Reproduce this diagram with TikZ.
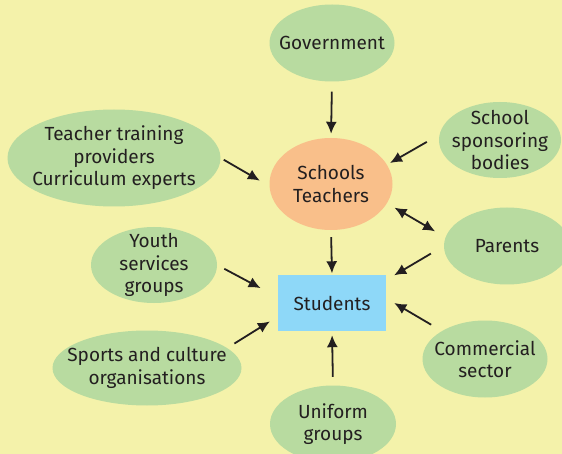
\documentclass[tikz,border=0pt]{standalone}
\usepackage{fontspec}
\setmainfont{Fira Sans}
\usetikzlibrary{shapes.geometric,positioning,arrows.meta}
\definecolor{bgyellow}{HTML}{F4F2AA}
\definecolor{actgreen}{HTML}{B8DBA0}
\definecolor{schorange}{HTML}{F9BF8A}
\definecolor{studblue}{HTML}{8ED8F8}
\definecolor{ink}{HTML}{231F20}
\tikzset{
	actor/.style={ellipse,fill=actgreen,inner sep=0pt},
	txt/.style={align=center,text=ink,font=\fontsize{19}{22.5}\selectfont,inner sep=0pt},
	tip/.tip={Latex[length=12pt,width=11pt]},
	link/.style={-tip,line width=1.8pt,draw=ink}
}

\begin{document}
\begin{tikzpicture}[x=1pt,y=-1pt]
\useasboundingbox (0,0) rectangle (562,454);
\clip (0,0) rectangle (562,454);
\fill[bgyellow] (0,0) rectangle (562,454);

%Acteurs autour
\node[actor,minimum width=125pt,minimum height=77pt,label={[txt]center:Government}] (gov) at (332,43) {};
\node[actor,minimum width=122pt,minimum height=76pt,label={[txt]center:School\\sponsoring\\bodies}] (sponsor) at (500,140) {};
\node[actor,minimum width=213pt,minimum height=97pt,label={[txt]center:Teacher training\\providers\\Curriculum experts}] (teach) at (114,158) {};
\node[actor,minimum width=126pt,minimum height=77pt,label={[txt]center:Parents}] (parents) at (507,246) {};
\node[actor,minimum width=126pt,minimum height=76pt,label={[txt]center:Youth\\services\\groups}] (youth) at (154,265) {};
\node[actor,minimum width=189pt,minimum height=75pt,label={[txt]center:Sports and culture\\organisations}] (sports) at (147,368) {};
\node[actor,minimum width=125pt,minimum height=77pt,label={[txt]center:Commercial\\sector}] (comm) at (485,359) {};
\node[actor,minimum width=126pt,minimum height=77pt,label={[txt]center:Uniform\\groups}] (uniform) at (333,424) {};

%Centre
\node[ellipse,fill=schorange,inner sep=0pt,minimum width=123pt,minimum height=92pt,label={[txt]center:Schools\\Teachers}] (school) at (331,184) {};
\node[txt,fill=studblue,minimum width=108pt,minimum height=56pt] (stud) at (332,303) {Students};

%Fleches
\draw[link,shorten <=10pt,shorten >=4pt] (gov.south) -- (school.north);
\draw[link,shorten <=14.5pt,shorten >=3.4pt] (sponsor.175) -- (school.19);
\draw[link,shorten <=3.5pt,shorten >=11pt] (teach.east) -- (school.182);
\draw[link,tip-tip,shorten <=8.6pt,shorten >=11.9pt] (school.-19.5) -- (parents.172.6);
\draw[link,shorten <=7pt,shorten >=1.5pt] (school.south) -- (stud.north);
\draw[link,shorten <=15pt,shorten >=9.2pt] (parents.west) -- (stud.23.5);
\draw[link,shorten <=8pt,shorten >=19.5pt] (youth.east) -- (stud.174.4);
\draw[link,shorten <=8.4pt,shorten >=9.3pt] (sports.14.7) -- (stud.-166.3);
\draw[link,shorten <=12.3pt,shorten >=9.3pt] (comm.147.5) -- (stud.5.1);
\draw[link,shorten <=8.5pt,shorten >=4pt] (uniform.north) -- (stud.south);

\end{tikzpicture}
\end{document}
